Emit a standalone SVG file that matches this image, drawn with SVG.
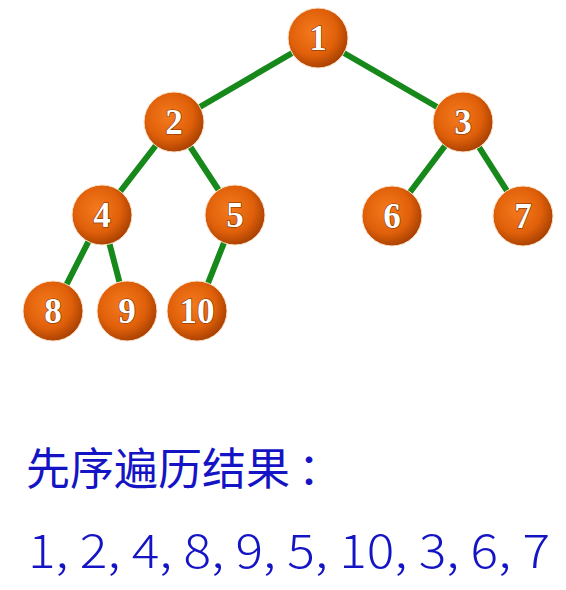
<svg xmlns="http://www.w3.org/2000/svg" width="566" height="590" viewBox="0 0 566 590">
<defs>
<radialGradient id="ball" cx="0.42" cy="0.4" r="0.65">
<stop offset="0" stop-color="#f47a1c"/>
<stop offset="0.6" stop-color="#e0600a"/>
<stop offset="1" stop-color="#a03c00"/>
</radialGradient>
</defs>
<style>
.edge{stroke:#16891a;stroke-width:6;stroke-linecap:round}
.ball{fill:url(#ball);stroke:#fbe3cc;stroke-width:1}
.lbl{font-family:"Liberation Serif","Times New Roman",serif;font-weight:bold;font-size:35px;fill:#ffffff;text-anchor:middle;paint-order:stroke;stroke:#7a2e00;stroke-width:1.2}
.txt{font-family:"Noto Sans CJK SC","Noto Sans",sans-serif;fill:#1414c4}
</style>
<rect width="566" height="590" fill="#ffffff"/>
<g id="connectors">
<line class="edge" x1="318" y1="38" x2="174" y2="122"/>
<line class="edge" x1="318" y1="38" x2="463" y2="122"/>
<line class="edge" x1="174" y1="122" x2="102" y2="215"/>
<line class="edge" x1="174" y1="122" x2="235" y2="215"/>
<line class="edge" x1="463" y1="122" x2="392" y2="216"/>
<line class="edge" x1="463" y1="122" x2="523" y2="216"/>
<line class="edge" x1="102" y1="215" x2="53" y2="311"/>
<line class="edge" x1="102" y1="215" x2="127" y2="311"/>
<line class="edge" x1="235" y1="215" x2="197" y2="311"/>
</g>
<g id="n1"><circle class="ball" cx="318" cy="38" r="30"/><text class="lbl" x="318" y="50">1</text></g>
<g id="n2"><circle class="ball" cx="174" cy="122" r="30"/><text class="lbl" x="174" y="134">2</text></g>
<g id="n3"><circle class="ball" cx="463" cy="122" r="30"/><text class="lbl" x="463" y="134">3</text></g>
<g id="n4"><circle class="ball" cx="102" cy="215" r="30"/><text class="lbl" x="102" y="227">4</text></g>
<g id="n5"><circle class="ball" cx="235" cy="215" r="30"/><text class="lbl" x="235" y="227">5</text></g>
<g id="n6"><circle class="ball" cx="392" cy="216" r="30"/><text class="lbl" x="392" y="228">6</text></g>
<g id="n7"><circle class="ball" cx="523" cy="216" r="30"/><text class="lbl" x="523" y="228">7</text></g>
<g id="n8"><circle class="ball" cx="53" cy="311" r="30"/><text class="lbl" x="53" y="323">8</text></g>
<g id="n9"><circle class="ball" cx="127" cy="311" r="30"/><text class="lbl" x="127" y="323">9</text></g>
<g id="n10"><circle class="ball" cx="197" cy="311" r="30"/><text class="lbl" x="197" y="323">10</text></g>
<text class="txt" x="26" y="485" font-size="44">先序遍历结果<tspan dx="8">：</tspan></text>
<text class="txt" x="28" y="568" font-size="47" font-weight="300" textLength="522" lengthAdjust="spacingAndGlyphs">1, 2, 4, 8, 9, 5, 10, 3, 6, 7</text>
</svg>
